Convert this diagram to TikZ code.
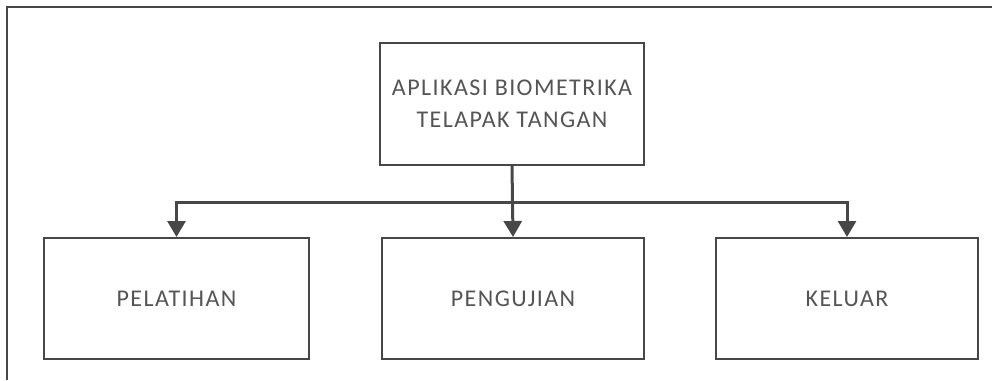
\documentclass[tikz,border=0pt]{standalone}
\usepackage{fontspec}
\setmainfont{Carlito}[LetterSpace=6]
\usetikzlibrary{arrows.meta}
\definecolor{linegray}{HTML}{474747}
\definecolor{textgray}{HTML}{555555}
\tikzset{
  blockbox/.style={draw=linegray, line width=2pt, fill=white, inner sep=0pt,
    text=textgray, font=\fontsize{24}{32}\selectfont, align=center},
  link/.style={draw=linegray, line width=3pt,
    -{Triangle[length=16pt,width=18pt]}}
}
\begin{document}
\begin{tikzpicture}[x=1pt,y=-1pt]
  \useasboundingbox (0,0) rectangle (992,380);
  % outer frame
  \draw[linegray, line width=2.5pt] (7,380) -- (7,7) -- (992,7);
  % boxes
  \node[blockbox, minimum width=264pt, minimum height=122pt] (app) at (512,104)
    {APLIKASI BIOMETRIKA\\TELAPAK TANGAN};
  \node[blockbox, minimum width=265pt, minimum height=121pt] (train) at (176.5,298.5) {PELATIHAN};
  \node[blockbox, minimum width=262pt, minimum height=121pt] (test) at (513,298.5) {PENGUJIAN};
  \node[blockbox, minimum width=262pt, minimum height=121pt] (quit) at (847,298.5) {KELUAR};
  % connectors
  \coordinate (split) at (512,202);
  \draw[link] (app.south) -- (test.north);
  \draw[link] (split) -| (train.north);
  \draw[link] (split) -| (quit.north);
\end{tikzpicture}
\end{document}
